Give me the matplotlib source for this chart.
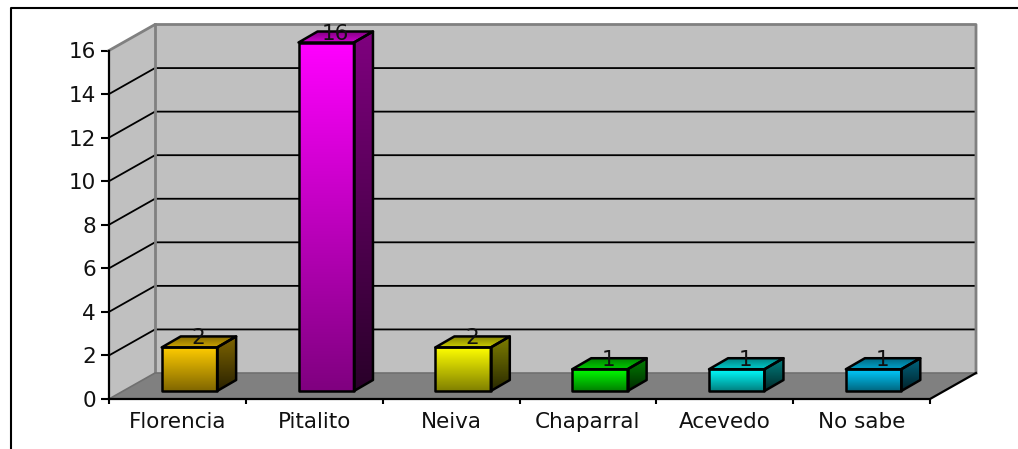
import numpy as np
import matplotlib
matplotlib.use('Agg')
import matplotlib.pyplot as plt
from matplotlib.colors import LinearSegmentedColormap
from matplotlib.patches import Polygon

categories = ['Florencia', 'Pitalito', 'Neiva', 'Chaparral', 'Acevedo', 'No sabe']
values = [2, 16, 2, 1, 1, 1]
bar_colors = ['#ffcc00', '#ff00ff', '#ffff00', '#00ff00', '#00ffff', '#00ccff']
y_ticks = [0, 2, 4, 6, 8, 10, 12, 14, 16]

W, H = 1018, 449
# front plane of the 3D box, in pixels
X0, X1, Y0, Y16 = 109, 930, 399, 50.5
DEPTH = (46, 26)
BAR_SHIFT = (12, 8)
BAR_DEPTH = (19, 11)
BAR_WIDTH = 0.405

plt.rcParams['font.family'] = ['DejaVu Sans']

fig = plt.figure(figsize=(W / 100, H / 100), dpi=100)
ax = fig.add_axes([X0 / W, 1 - Y0 / H, (X1 - X0) / W, (Y0 - Y16) / H])
ax.set_xlim(0, len(categories))
ax.set_ylim(0, 16)
ax.patch.set_visible(False)
for s in ax.spines.values():
    s.set_visible(False)

px_x = len(categories) / (X1 - X0)
px_y = 16 / (Y0 - Y16)
dx, dy = DEPTH[0] * px_x, DEPTH[1] * px_y


def face(pts, color, z):
    ax.add_patch(Polygon(pts, closed=True, fc=color, ec='none', zorder=z, clip_on=False))


def grad_face(pts, c_top, c_bottom, z, lims):
    # vertical gradient clipped to a polygon
    cmap = LinearSegmentedColormap.from_list('g', [c_top, c_bottom])
    im = ax.imshow(np.linspace(0, 1, 256)[:, None], cmap=cmap, aspect='auto', extent=lims,
                   origin='upper', zorder=z, interpolation='bilinear')
    outline = Polygon(pts, closed=True, fc='none', ec='black', lw=1.8, zorder=z + 0.1,
                      clip_on=False, joinstyle='round')
    ax.add_patch(outline)
    im.set_clip_path(outline)
    im.set_clip_box(fig.bbox)


def darker(color, f):
    return tuple(c * f for c in matplotlib.colors.to_rgb(color))


# walls and floor
n = len(categories)
face([(0, 0), (dx, dy), (dx, 16 + dy), (0, 16)], '#c0c0c0', 1)
face([(dx, dy), (n + dx, dy), (n + dx, 16 + dy), (dx, 16 + dy)], '#c0c0c0', 1)
face([(0, 0), (n, 0), (n + dx, dy), (dx, dy)], '#808080', 1)

# gridlines on side and back walls
for t in y_ticks[1:-1]:
    ax.plot([0, dx, n + dx], [t, t + dy, t + dy], color='black', lw=1.3, zorder=2, clip_on=False)

# wall outlines
ax.plot([0, dx, n + dx, n + dx], [16, 16 + dy, 16 + dy, dy], color='#808080', lw=2, zorder=2, clip_on=False)
ax.plot([dx, dx], [dy, 16 + dy], color='#808080', lw=2, zorder=2, clip_on=False)
ax.plot([0, dx, n + dx], [0, dy, dy], color='#707070', lw=1.2, zorder=2, clip_on=False)

# front axes
ax.plot([0, 0], [0, 16], color='black', lw=1.6, zorder=3, clip_on=False)
ax.plot([0, n, n + dx], [0, 0, dy], color='black', lw=1.6, zorder=3, clip_on=False)
ax.set_xticks(range(n + 1))
ax.set_xticklabels([])
ax.set_yticks(y_ticks)
ax.tick_params(axis='x', length=3.5, width=1.5, color='black')
ax.tick_params(axis='y', length=5.5, width=1.5, color='black', pad=4, labelsize=15.5, labelcolor='#111111')
for i, name in enumerate(categories):
    ax.annotate(name, (i + 0.5, 0), xytext=(0, -23), textcoords='offset pixels', ha='center', va='center',
                fontsize=15.5, color='#111111', annotation_clip=False)

# bars
shift_x, shift_y = BAR_SHIFT[0] * px_x, BAR_SHIFT[1] * px_y
bdx, bdy = BAR_DEPTH[0] * px_x, BAR_DEPTH[1] * px_y
for i, (v, col) in enumerate(zip(values, bar_colors)):
    l = i + 0.5 - BAR_WIDTH / 2 + shift_x
    r = l + BAR_WIDTH
    b = shift_y
    t = shift_y + v
    z = 5 + i
    dark = darker(col, 0.5)
    darkest = darker(col, 0.16)
    grad_face([(l, b), (r, b), (r, t), (l, t)], col, dark, z, (l, r, b, t))
    grad_face([(r, b), (r + bdx, b + bdy), (r + bdx, t + bdy), (r, t)], dark, darkest, z,
              (r, r + bdx, b, t + bdy))
    grad_face([(l, t), (r, t), (r + bdx, t + bdy), (l + bdx, t + bdy)], dark, darker(col, 0.8), z,
              (l, r + bdx, t, t + bdy))
    ax.annotate(str(v), (l + BAR_WIDTH / 2, t), xytext=(9, 9), textcoords='offset pixels', ha='center',
                va='center', fontsize=15.5, color='#111111', zorder=20, annotation_clip=False)

ax.set_xlim(0, n)
ax.set_ylim(0, 16)

# outer frame: only top and left edges show in the crop
fig.add_artist(plt.Line2D([10.5 / W, 10.5 / W, 1], [0, 1 - 8 / H, 1 - 8 / H], color='black', lw=1.5))

fig.savefig('out.png', dpi=100)
